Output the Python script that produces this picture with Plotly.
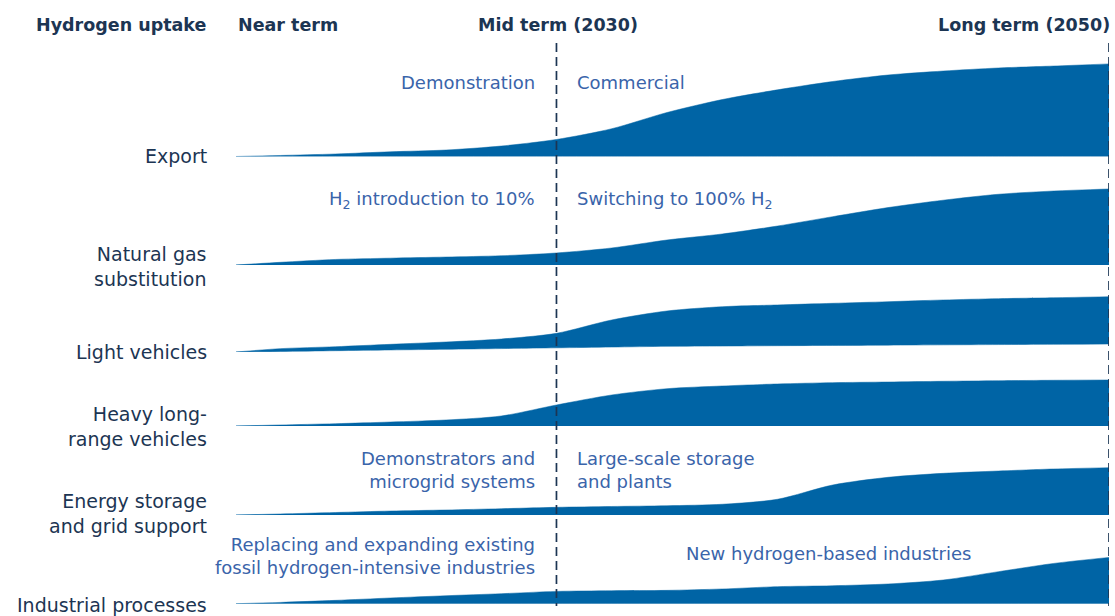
import plotly.graph_objects as go

# ---------------- data (relative uptake index) ----------------
years = [2018.4, 2020, 2022, 2024, 2026, 2028, 2030, 2032, 2034, 2036,
         2038, 2040, 2042, 2044, 2046, 2048, 2050]

export = [0, 1.1, 2.7, 5.1, 7.0, 11.3, 18.4, 30.0, 47.5, 61.5,
          72.0, 81.0, 88.0, 92.3, 95.6, 97.7, 100.0]
natural_gas = [0, 2.9, 6.0, 7.4, 8.6, 10.0, 13.0, 18.4, 27.0, 33.5,
               42.1, 52.2, 62.0, 70.0, 76.4, 79.9, 82.1]
light_vehicles = [0, 3.6, 5.7, 8.3, 10.8, 14.0, 20.2, 34.6, 44.3, 48.9,
                  50.8, 52.6, 54.3, 56.2, 57.6, 58.6, 59.7]
light_vehicles_base = [0, 0.6, 1.4, 2.2, 2.9, 3.7, 4.5, 5.3, 6.1, 6.4,
                       6.8, 7.1, 7.4, 7.7, 8.0, 8.3, 8.6]
heavy_vehicles = [0, 1.1, 2.5, 4.3, 6.5, 10.8, 22.7, 33.5, 40.3, 43.2,
                  45.4, 46.8, 47.5, 48.3, 48.9, 49.4, 49.7]
energy_storage = [0, 1.1, 2.7, 4.3, 5.4, 6.8, 8.3, 9.2, 10.0, 11.6,
                  17.0, 32.4, 40.7, 45.0, 47.5, 49.7, 51.1]
industrial = [0, 1.4, 3.6, 6.2, 8.6, 10.8, 13.3, 14.0, 14.4, 15.9,
              18.4, 19.4, 21.3, 25.6, 34.6, 43.5, 50.0]
zero_base = [0] * len(years)

row_labels = ["Export", "Natural gas<br>substitution", "Light vehicles",
              "Heavy long-<br>range vehicles", "Energy storage<br>and grid support",
              "Industrial processes"]
row_tops = [export, natural_gas, light_vehicles, heavy_vehicles, energy_storage, industrial]
row_bases = [zero_base, zero_base, light_vehicles_base, zero_base, zero_base, zero_base]

headers = ["Hydrogen uptake", "Near term", "Mid term (2030)", "Long term (2050)"]
milestones = [2030, 2050]

# ---------------- layout helpers ----------------
W, H = 1115, 616
ML, MR = 236, 6
PW = W - ML - MR


def px_x(p):
    return (p - ML) / PW


def px_y(p):
    return 1 - p / H


FILL = "#0064a5"
DARK = "#1c3553"
BLUE = "#3a64aa"
FONT = "DejaVu Sans"

row_bottom_px = [156.5, 265, 352, 426, 515, 603.7]
row_label_px = [156, 266.5, 352, 426.5, 513.5, 605]
Y_RANGE = 110
UNITS_PER_PX = 1.08
dom_h = Y_RANGE / UNITS_PER_PX / H

fig = go.Figure()
layout_axes = {}
for i, (top, base) in enumerate(zip(row_tops, row_bases)):
    yname = "y" if i == 0 else f"y{i + 1}"
    axkey = "yaxis" if i == 0 else f"yaxis{i + 1}"
    fig.add_trace(go.Scatter(x=years, y=base, mode="lines", yaxis=yname,
                             line=dict(color=FILL, width=0.5, shape="spline", smoothing=0.8),
                             hoverinfo="skip", showlegend=False))
    fig.add_trace(go.Scatter(x=years, y=top, mode="lines", yaxis=yname,
                             fill="tonexty", fillcolor=FILL,
                             line=dict(color=FILL, width=0.5, shape="spline", smoothing=0.8),
                             name=row_labels[i].replace("<br>", " "), showlegend=False))
    y0 = px_y(row_bottom_px[i])
    layout_axes[axkey] = dict(domain=[y0, y0 + dom_h], range=[0, Y_RANGE],
                              visible=False, anchor="x", fixedrange=True)

annotations = []
# headers
annotations.append(dict(x=px_x(209), y=px_y(25), text=f"<b>{headers[0]}</b>",
                        xanchor="right", font=dict(size=17.5, color=DARK)))
annotations.append(dict(x=px_x(236), y=px_y(25), text=f"<b>{headers[1]}</b>",
                        xanchor="left", font=dict(size=17.5, color=DARK)))
annotations.append(dict(x=px_x(558), y=px_y(25), text=f"<b>{headers[2]}</b>",
                        xanchor="center", font=dict(size=17.5, color=DARK)))
annotations.append(dict(x=px_x(1112), y=px_y(25), text=f"<b>{headers[3]}</b>",
                        xanchor="right", font=dict(size=17.5, color=DARK)))

# row labels
for lab, yp in zip(row_labels, row_label_px):
    annotations.append(dict(x=px_x(209), y=px_y(yp), text=lab, xanchor="right",
                            align="right", font=dict(size=19, color=DARK)))

# stage notes
notes = [
    ("Demonstration", 537, 83, "right"),
    ("Commercial", 575, 83, "left"),
    ("H<sub>2</sub> introduction to 10%", 537, 200, "right"),
    ("Switching to 100% H<sub>2</sub>", 575, 200, "left"),
    ("Demonstrators and<br>microgrid systems", 537, 469.5, "right"),
    ("Large-scale storage<br>and plants", 575, 469.5, "left"),
    ("Replacing and expanding existing<br>fossil hydrogen-intensive industries", 537, 555.5, "right"),
    ("New hydrogen-based industries", 828, 553, "center"),
]
for txt, xp, yp, anc in notes:
    annotations.append(dict(x=px_x(xp), y=px_y(yp), text=txt, xanchor=anc,
                            align=anc, font=dict(size=18, color=BLUE)))

for a in annotations:
    a.update(xref="paper", yref="paper", showarrow=False, yanchor="middle")

shapes = []
for m in milestones:
    shapes.append(dict(type="line", xref="x", yref="paper", x0=m, x1=m,
                       y0=px_y(43), y1=px_y(606),
                       line=dict(color=DARK, width=1.7, dash="9px,5px"), layer="above"))

fig.update_layout(
    width=W, height=H,
    margin=dict(l=ML, r=MR, t=0, b=0),
    paper_bgcolor="white", plot_bgcolor="rgba(0,0,0,0)",
    font=dict(family=FONT, color=DARK),
    xaxis=dict(range=[years[0], years[-1]], visible=False, fixedrange=True),
    annotations=annotations, shapes=shapes, showlegend=False,
    **layout_axes,
)

fig.write_html(
    "out.html",
    config={"displayModeBar": False},
    post_script="document.body.style.margin='0';document.body.style.padding='0';"
                "document.body.style.overflow='hidden';",
)
